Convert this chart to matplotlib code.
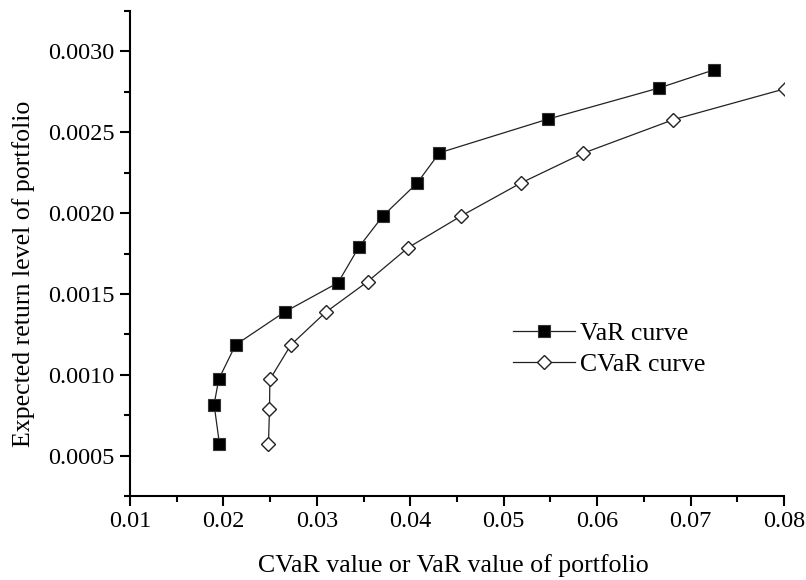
import matplotlib
matplotlib.use('Agg')
import matplotlib.pyplot as plt
from matplotlib.ticker import MultipleLocator, FormatStrFormatter

# Data
var_x = [0.01957, 0.0190, 0.0195, 0.0213, 0.02654, 0.03226, 0.0345,
         0.03708, 0.04072, 0.04312, 0.05477, 0.06663, 0.07256]
var_y = [0.000574, 0.000816, 0.000973, 0.001185, 0.001388, 0.001569, 0.00179,
         0.001983, 0.002185, 0.002373, 0.002582, 0.002774, 0.002887]

cvar_x = [0.02482, 0.02493, 0.02497, 0.02722, 0.03093, 0.03543,
          0.03976, 0.04547, 0.0518, 0.05852, 0.06816, 0.0801]
cvar_y = [0.000574, 0.000787, 0.000971, 0.001185, 0.001386, 0.001576,
          0.001786, 0.001983, 0.002185, 0.002371, 0.002578, 0.002769]

plt.rcParams['font.family'] = ['Liberation Serif', 'DejaVu Serif']

fig = plt.figure(figsize=(8.06, 5.80), dpi=100)
ax = fig.add_axes([0.1613, 0.1448, 0.8114, 0.8362])

ax.plot(var_x, var_y, color='#222222', linewidth=0.9, marker='s',
        markersize=8.2, markerfacecolor='black', markeredgecolor='#333333',
        markeredgewidth=0.8, label='VaR curve')
ax.plot(cvar_x, cvar_y, color='#222222', linewidth=0.9, marker='D',
        markersize=7.5, markerfacecolor='white', markeredgecolor='#222222',
        markeredgewidth=1.0, label='CVaR curve')

ax.set_xlim(0.01, 0.08)
ax.set_ylim(0.00025, 0.00325)
ax.xaxis.set_major_locator(MultipleLocator(0.01))
ax.xaxis.set_minor_locator(MultipleLocator(0.005))
ax.yaxis.set_major_locator(MultipleLocator(0.0005))
ax.yaxis.set_minor_locator(MultipleLocator(0.00025))
ax.xaxis.set_major_formatter(FormatStrFormatter('%.2f'))
ax.yaxis.set_major_formatter(FormatStrFormatter('%.4f'))

for side in ['top', 'right']:
    ax.spines[side].set_visible(False)
for side in ['left', 'bottom']:
    ax.spines[side].set_linewidth(1.5)

ax.tick_params(axis='both', which='major', direction='out', length=7.5,
               width=1.5, labelsize=17.5, pad=3.5)
ax.tick_params(axis='both', which='minor', direction='out', length=4.5,
               width=1.5)

ax.set_xlabel('CVaR value or VaR value of portfolio', fontsize=18.6)
ax.set_ylabel('Expected return level of portfolio', fontsize=18.6)
ax.xaxis.set_label_coords(0.495, -0.12)
ax.yaxis.set_label_coords(-0.145, 0.459)

ax.legend(loc='upper left', bbox_to_anchor=(0.5697, 0.38), frameon=False,
          fontsize=18.5, handlelength=2.4, handletextpad=0.2, labelspacing=0.33,
          borderaxespad=0)

fig.savefig('out.png', dpi=100)
